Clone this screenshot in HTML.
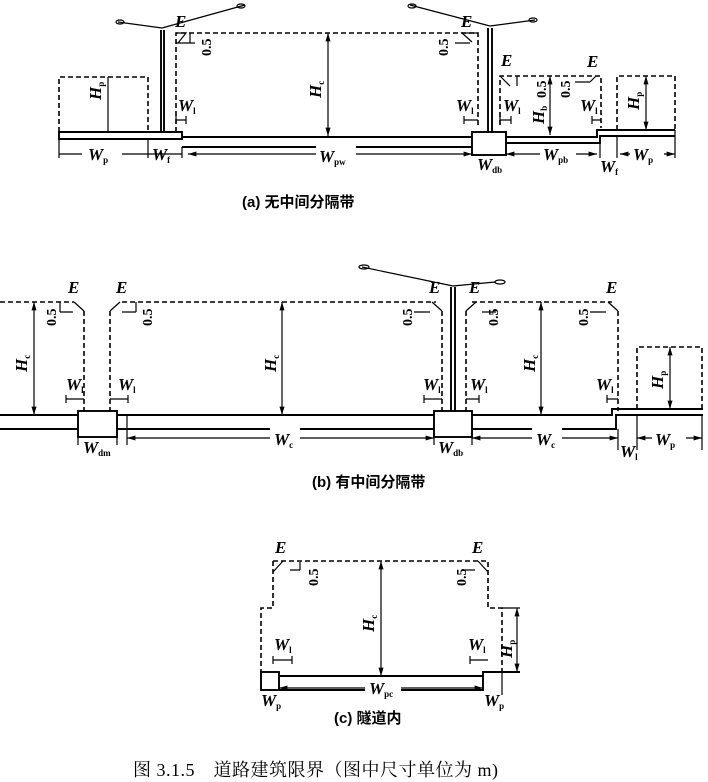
<!DOCTYPE html>
<html><head><meta charset="utf-8"><style>
html,body{margin:0;padding:0;background:#fff;}
svg{display:block}
.s{stroke:#000;stroke-width:1.9;fill:none}
.t{stroke:#000;stroke-width:1.2;fill:none}
.d{stroke:#000;stroke-width:1.6;fill:none;stroke-dasharray:5,3}
.l{font-family:"Liberation Serif",serif;font-style:italic;font-weight:bold;font-size:17px;fill:#000}
.sub{font-size:9px;font-style:normal}
.n{font-family:"Liberation Serif",serif;font-weight:bold;font-size:14px;fill:#000}
.c{font-family:"Liberation Sans","Noto Sans CJK SC",sans-serif;font-size:15px;font-weight:bold;fill:#000}
.cap{font-family:"Liberation Serif","Noto Serif CJK SC",serif;font-size:18px;fill:#000;letter-spacing:0.5px}
</style></head><body>
<svg width="708" height="782" viewBox="0 0 708 782" xmlns="http://www.w3.org/2000/svg">
<defs>
<marker id="a" viewBox="0 0 10 10" refX="10" refY="5" markerWidth="7" markerHeight="7" orient="auto-start-reverse"><path d="M0,2 L10,5 L0,8z" fill="#000"/></marker>
</defs>

<!-- ===== (a) ===== -->
<path class="s" d="M59,132 H182 V139 H59 Z"/>
<path class="s" d="M182,137 H472 M182,147 H472"/>
<path class="t" d="M59,139 V158 M148,139 V158 M182,147 V158"/>
<path class="d" d="M59,132 V77 H148 V132"/>
<line class="t" x1="108" y1="77" x2="108" y2="132"/>
<text class="l" transform="translate(101,100) rotate(-90)">H<tspan class="sub" dy="3">p</tspan></text>
<path class="s" d="M161,30 V132 M164,30 V132"/>
<path class="t" d="M162,28 L118,22 M162,28 L245,5"/>
<ellipse cx="120" cy="22" rx="4" ry="2" class="t"/><ellipse cx="241" cy="6" rx="4" ry="2" class="t"/>
<path class="d" d="M176,132 V33 H478 V125"/>
<path class="t" d="M176,33 L186,33 L178,43 M176,43 H195 M190,33 V43"/>
<text class="l" x="175" y="27">E</text>
<text class="n" transform="translate(211,56) rotate(-90)">0.5</text>
<line class="t" x1="328" y1="33" x2="328" y2="136" marker-start="url(#a)" marker-end="url(#a)"/>
<text class="l" transform="translate(321,98) rotate(-90)">H<tspan class="sub" dy="3">c</tspan></text>
<text class="l" x="178" y="111">W<tspan class="sub" dy="3">l</tspan></text>
<path class="t" d="M176,116 V124 M176,120 H186 M186,116 V124"/>
<line class="t" x1="59" y1="154" x2="148" y2="154"/>
<line class="t" x1="148" y1="154" x2="182" y2="154"/>
<line class="t" x1="188" y1="154" x2="472" y2="154" marker-start="url(#a)" marker-end="url(#a)"/>
<rect x="82" y="142" width="40" height="18" fill="#fff"/>
<text class="l" x="88" y="160">W<tspan class="sub" dy="3">p</tspan></text>
<text class="l" x="152" y="160">W<tspan class="sub" dy="3">f</tspan></text>
<rect x="316" y="142" width="40" height="18" fill="#fff"/>
<text class="l" x="319" y="162">W<tspan class="sub" dy="3">pw</tspan></text>
<rect class="s" x="472" y="132" width="34" height="23"/>
<path class="s" d="M488,28 V132 M492,28 V132"/>
<path class="t" d="M490,26 L410,5 M490,26 L535,20"/>
<ellipse cx="412" cy="6" rx="4" ry="2" class="t"/><ellipse cx="533" cy="20" rx="4" ry="2" class="t"/>
<path class="t" d="M478,33 L462,33 L472,42 M455,43 H470"/>
<text class="l" x="461" y="27">E</text>
<text class="n" transform="translate(448,56) rotate(-90)">0.5</text>
<text class="l" x="456" y="111">W<tspan class="sub" dy="3">l</tspan></text>
<path class="t" d="M464,116 V124 M464,120 H478"/>
<path class="s" d="M506,137 H597 V130 H675 M506,143 H600 V136 H675"/>
<path class="t" d="M675,130 V158 M600,143 V158 M617,136 V158"/>
<path class="d" d="M500,125 V76 H601 V128"/>
<path class="t" d="M500,76 L510,86 M517,76 V86 M596,76 L590,82 M575,82 H590"/>
<text class="l" x="501" y="66">E</text>
<text class="l" x="587" y="67">E</text>
<text class="n" transform="translate(546,98) rotate(-90)">0.5</text>
<text class="n" transform="translate(570,98) rotate(-90)">0.5</text>
<line class="t" x1="550" y1="76" x2="550" y2="135" marker-start="url(#a)" marker-end="url(#a)"/>
<text class="l" transform="translate(544,124) rotate(-90)">H<tspan class="sub" dy="3">b</tspan></text>
<text class="l" x="503" y="111">W<tspan class="sub" dy="3">l</tspan></text>
<path class="t" d="M500,116 V124 M500,120 H511 M511,116 V124"/>
<text class="l" x="580" y="111">W<tspan class="sub" dy="3">l</tspan></text>
<path class="t" d="M592,116 V124 M592,120 H601"/>
<path class="d" d="M617,130 V76 H675 V130"/>
<line class="t" x1="646" y1="76" x2="646" y2="130" marker-start="url(#a)" marker-end="url(#a)"/>
<text class="l" transform="translate(639,110) rotate(-90)">H<tspan class="sub" dy="3">p</tspan></text>
<line class="t" x1="506" y1="154" x2="597" y2="154" marker-start="url(#a)" marker-end="url(#a)"/>
<line class="t" x1="620" y1="154" x2="675" y2="154" marker-start="url(#a)" marker-end="url(#a)"/>
<rect x="540" y="145" width="36" height="16" fill="#fff"/>
<text class="l" x="543" y="160">W<tspan class="sub" dy="3">pb</tspan></text>
<rect x="630" y="145" width="34" height="16" fill="#fff"/>
<text class="l" x="633" y="160">W<tspan class="sub" dy="3">p</tspan></text>
<text class="l" x="477" y="170">W<tspan class="sub" dy="3">db</tspan></text>
<text class="l" x="600" y="172">W<tspan class="sub" dy="3">f</tspan></text>
<text class="c" x="242" y="207">(a) 无中间分隔带</text>

<!-- ===== (b) ===== -->
<path class="d" d="M0,302 H74 M122,302 H436 M472,302 H612"/>
<path class="s" d="M0,415 H78 M0,429 H78 M117,415 H434 M117,429 H434 M472,415 H612 V409 H703 M472,429 H616 V415 H703"/>
<rect class="s" x="78" y="411" width="39" height="26"/>
<rect class="s" x="434" y="411" width="38" height="26"/>
<path class="d" d="M84,311 V411 M110,311 V411 M442,311 V411 M466,311 V411 M618,311 V411"/>
<path class="t" d="M74,302 L84,311 M60,302 V312 M60,312 H73 M120,302 L110,311 M136,302 V312 M136,312 H122 M432,302 L442,311 M414,312 H430 M476,302 L466,311 M482,312 H496 M608,302 L618,311 M590,312 H606"/>
<text class="l" x="68" y="293">E</text><text class="l" x="116" y="293">E</text>
<text class="l" x="429" y="293">E</text><text class="l" x="469" y="293">E</text><text class="l" x="606" y="293">E</text>
<text class="n" transform="translate(56,326) rotate(-90)">0.5</text>
<text class="n" transform="translate(152,326) rotate(-90)">0.5</text>
<text class="n" transform="translate(412,326) rotate(-90)">0.5</text>
<text class="n" transform="translate(498,326) rotate(-90)">0.5</text>
<text class="n" transform="translate(588,326) rotate(-90)">0.5</text>
<path class="s" d="M451,287 V411 M455,287 V411"/>
<path class="t" d="M453,286 L362,267 M453,286 L495,282"/>
<ellipse cx="364" cy="267" rx="5" ry="2" class="t"/><ellipse cx="500" cy="282" rx="5" ry="2" class="t"/>
<line class="t" x1="34" y1="302" x2="34" y2="415" marker-start="url(#a)" marker-end="url(#a)"/>
<line class="t" x1="282" y1="302" x2="282" y2="415" marker-start="url(#a)" marker-end="url(#a)"/>
<line class="t" x1="541" y1="302" x2="541" y2="415" marker-start="url(#a)" marker-end="url(#a)"/>
<text class="l" transform="translate(27,372) rotate(-90)">H<tspan class="sub" dy="3">c</tspan></text>
<text class="l" transform="translate(276,372) rotate(-90)">H<tspan class="sub" dy="3">c</tspan></text>
<text class="l" transform="translate(535,372) rotate(-90)">H<tspan class="sub" dy="3">c</tspan></text>
<text class="l" x="66" y="390">W<tspan class="sub" dy="3">l</tspan></text><path class="t" d="M66,395 V403 M66,399 H84"/>
<text class="l" x="118" y="390">W<tspan class="sub" dy="3">l</tspan></text><path class="t" d="M110,399 H128 M128,395 V403"/>
<text class="l" x="423" y="390">W<tspan class="sub" dy="3">l</tspan></text><path class="t" d="M424,395 V403 M424,399 H442"/>
<text class="l" x="470" y="390">W<tspan class="sub" dy="3">l</tspan></text><path class="t" d="M466,399 H479 M479,395 V403"/>
<text class="l" x="596" y="390">W<tspan class="sub" dy="3">l</tspan></text><path class="t" d="M607,395 V403 M607,399 H618"/>
<path class="d" d="M637,409 V347 H702 V409"/>
<line class="t" x1="670" y1="347" x2="670" y2="409" marker-start="url(#a)" marker-end="url(#a)"/>
<text class="l" transform="translate(663,389) rotate(-90)">H<tspan class="sub" dy="3">p</tspan></text>
<path class="t" d="M78,437 V445 M117,437 V445 M127,415 V445 M434,437 V445 M472,437 V445 M618,429 V450 M637,415 V450 M702,415 V450"/>
<line class="t" x1="127" y1="438" x2="434" y2="438" marker-start="url(#a)" marker-end="url(#a)"/>
<line class="t" x1="472" y1="438" x2="618" y2="438" marker-start="url(#a)" marker-end="url(#a)"/>
<line class="t" x1="637" y1="438" x2="702" y2="438" marker-start="url(#a)" marker-end="url(#a)"/>
<rect x="270" y="428" width="30" height="18" fill="#fff"/><text class="l" x="274" y="445">W<tspan class="sub" dy="3">c</tspan></text>
<rect x="532" y="428" width="30" height="18" fill="#fff"/><text class="l" x="536" y="445">W<tspan class="sub" dy="3">c</tspan></text>
<rect x="652" y="428" width="34" height="18" fill="#fff"/><text class="l" x="655" y="445">W<tspan class="sub" dy="3">p</tspan></text>
<text class="l" x="83" y="453">W<tspan class="sub" dy="3">dm</tspan></text>
<text class="l" x="438" y="453">W<tspan class="sub" dy="3">db</tspan></text>
<text class="l" x="620" y="457">W<tspan class="sub" dy="3">l</tspan></text>
<text class="c" x="312" y="487">(b) 有中间分隔带</text>

<!-- ===== (c) ===== -->
<path class="d" d="M273,561 H488 V608 H502 V672 M273,561 V608 H261 V672"/>
<path class="t" d="M273,572 L283,561 M300,562 V570 M290,570 H300 M488,572 L478,561 M462,570 H475"/>
<text class="l" x="275" y="553">E</text><text class="l" x="472" y="553">E</text>
<text class="n" transform="translate(318,586) rotate(-90)">0.5</text>
<text class="n" transform="translate(466,586) rotate(-90)">0.5</text>
<rect class="s" x="261" y="672" width="18" height="18"/>
<path class="s" d="M279,676 H483 V672 H520 M279,690 H483 V672"/>
<line class="t" x1="381" y1="561" x2="381" y2="676" marker-start="url(#a)" marker-end="url(#a)"/>
<text class="l" transform="translate(374,632) rotate(-90)">H<tspan class="sub" dy="3">c</tspan></text>
<path class="t" d="M502,608 H520 M502,672 V695"/>
<line class="t" x1="517" y1="608" x2="517" y2="672" marker-start="url(#a)" marker-end="url(#a)"/>
<text class="l" transform="translate(512,658) rotate(-90)">H<tspan class="sub" dy="3">p</tspan></text>
<text class="l" x="274" y="650">W<tspan class="sub" dy="3">l</tspan></text><path class="t" d="M273,656 V664 M273,660 H292 M292,656 V664"/>
<text class="l" x="468" y="650">W<tspan class="sub" dy="3">l</tspan></text><path class="t" d="M470,656 V664 M470,660 H488"/>
<line class="t" x1="279" y1="688" x2="483" y2="688" marker-start="url(#a)" marker-end="url(#a)"/>
<rect x="365" y="678" width="36" height="18" fill="#fff"/>
<text class="l" x="369" y="694">W<tspan class="sub" dy="3">pc</tspan></text>
<text class="l" x="261" y="706">W<tspan class="sub" dy="3">p</tspan></text>
<text class="l" x="484" y="706">W<tspan class="sub" dy="3">p</tspan></text>
<text class="c" x="334" y="723">(c) 隧道内</text>

<text class="cap" x="133" y="776">图 3.1.5　道路建筑限界（图中尺寸单位为 m)</text>
</svg>
</body></html>
